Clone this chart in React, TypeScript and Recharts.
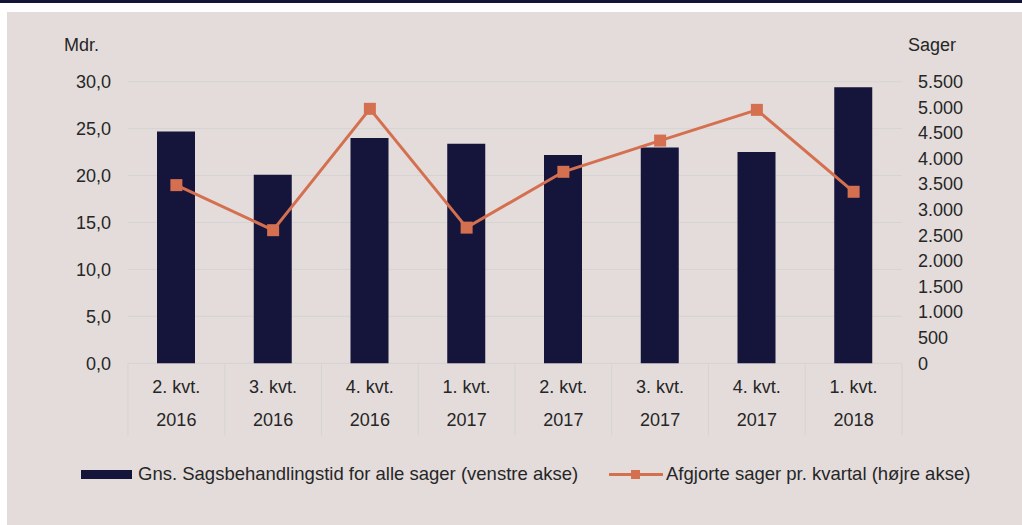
import React from 'react';
import { ComposedChart, Bar, Line, XAxis, YAxis, CartesianGrid } from 'recharts';

const quarters = ['2. kvt.', '3. kvt.', '4. kvt.', '1. kvt.', '2. kvt.', '3. kvt.', '4. kvt.', '1. kvt.'];
const years = ['2016', '2016', '2016', '2017', '2017', '2017', '2017', '2018'];
const behandlingstid = [24.7, 20.1, 24.0, 23.4, 22.2, 23.0, 22.5, 29.4];
const afgjorte = [3480, 2600, 4970, 2650, 3740, 4350, 4950, 3350];
const leftTicks = [0, 5, 10, 15, 20, 25, 30];
const rightTicks = [0, 500, 1000, 1500, 2000, 2500, 3000, 3500, 4000, 4500, 5000, 5500];
const barName = 'Gns. Sagsbehandlingstid for alle sager (venstre akse)';
const lineName = 'Afgjorte sager pr. kvartal (højre akse)';
const leftUnit = 'Mdr.';
const rightUnit = 'Sager';

const data = quarters.map((q, i) => ({
  label: q + '|' + years[i],
  tid: behandlingstid[i],
  sager: afgjorte[i],
}));

const W = 1022;
const H = 525;
const FONT = '"Liberation Sans", Arial, sans-serif';
const TEXT = '#262626';
const NAVY = '#15153B';
const ORANGE = '#D4704F';
const BG = '#E3DCDB';
const GRID = '#D5D3D3';
const margin = { top: 81.7, right: 60, bottom: 89.7, left: 68 };
const AXW = 60;
const plotWidth = W - margin.left - margin.right - 2 * AXW;

const fmtLeft = (v: number) => v.toFixed(1).replace('.', ',');
const fmtRight = (v: number) => String(v).replace(/\B(?=(\d{3})+(?!\d))/g, '.');

const XTick = (props: any) => {
  const { x, y, payload, index } = props;
  const n = props.visibleTicksCount || quarters.length;
  const bw = plotWidth / n;
  const [q, yr] = String(payload.value).split('|');
  return (
    <g>
      <line x1={x - bw / 2} x2={x - bw / 2} y1={y} y2={y + 72} stroke={GRID} strokeWidth={1} />
      {index === n - 1 && (
        <line x1={x + bw / 2} x2={x + bw / 2} y1={y} y2={y + 72} stroke={GRID} strokeWidth={1} />
      )}
      <text x={x} y={y + 24} textAnchor="middle" dominantBaseline="central" fontFamily={FONT} fontSize={18} fill={TEXT}>
        {q}
      </text>
      <text x={x} y={y + 57} textAnchor="middle" dominantBaseline="central" fontFamily={FONT} fontSize={18} fill={TEXT}>
        {yr}
      </text>
    </g>
  );
};

const SquareDot = (props: any) => {
  const { cx, cy } = props;
  if (cx == null || cy == null) return null;
  return <rect x={cx - 6} y={cy - 6} width={12} height={12} fill={ORANGE} />;
};

export default function App() {
  return (
    <div style={{ position: 'absolute', left: 0, top: 0, width: W, height: H, background: '#FFFFFF', overflow: 'hidden' }}>
      <div style={{ position: 'absolute', left: 0, top: 0, width: W, height: 3, background: '#141438' }} />
      <div style={{ position: 'absolute', left: 7, top: 12, width: W - 7, height: H - 12, background: BG }} />
      <div style={{ position: 'absolute', left: 0, top: 0 }}>
        <ComposedChart width={W} height={H} data={data} margin={margin}>
          <CartesianGrid yAxisId="left" vertical={false} stroke={GRID} strokeWidth={1} />
          <XAxis
            dataKey="label"
            height={72}
            axisLine={false}
            tickLine={false}
            tickSize={0}
            tickMargin={0}
            interval={0}
            tick={<XTick />}
          />
          <YAxis
            yAxisId="left"
            orientation="left"
            width={AXW}
            domain={[0, 30]}
            ticks={leftTicks}
            interval={0}
            tickFormatter={fmtLeft}
            axisLine={false}
            tickLine={false}
            tickSize={0}
            tickMargin={17}
            tick={{ fontFamily: FONT, fontSize: 18, fill: TEXT }}
            label={{
              content: (p: any) => (
                <text x={64} y={45} dominantBaseline="central" fontFamily={FONT} fontSize={18} fill={TEXT}>
                  {leftUnit}
                </text>
              ),
            }}
          />
          <YAxis
            yAxisId="right"
            orientation="right"
            width={AXW}
            domain={[0, 5500]}
            ticks={rightTicks}
            interval={0}
            tickFormatter={fmtRight}
            axisLine={false}
            tickLine={false}
            tickSize={0}
            tickMargin={16}
            tick={{ fontFamily: FONT, fontSize: 18, fill: TEXT, textAnchor: 'start' }}
            label={{
              content: (p: any) => (
                <text x={908} y={45} dominantBaseline="central" fontFamily={FONT} fontSize={18} fill={TEXT}>
                  {rightUnit}
                </text>
              ),
            }}
          />
          <Bar yAxisId="left" dataKey="tid" name={barName} fill={NAVY} barSize={38} isAnimationActive={false} />
          <Line
            yAxisId="right"
            dataKey="sager"
            name={lineName}
            stroke={ORANGE}
            strokeWidth={3}
            dot={<SquareDot />}
            activeDot={false}
            isAnimationActive={false}
          />
        </ComposedChart>
      </div>
      <div style={{ position: 'absolute', left: 81, top: 470, width: 51, height: 9, background: NAVY }} />
      <div style={{ position: 'absolute', left: 138, top: 462, height: 24, lineHeight: '24px', fontFamily: FONT, fontSize: 18.5, color: TEXT, whiteSpace: 'nowrap' }}>
        {barName}
      </div>
      <div style={{ position: 'absolute', left: 609, top: 472.5, width: 54, height: 3, background: ORANGE }} />
      <div style={{ position: 'absolute', left: 631, top: 469.5, width: 9, height: 9, background: ORANGE }} />
      <div style={{ position: 'absolute', left: 666, top: 462, height: 24, lineHeight: '24px', fontFamily: FONT, fontSize: 18.5, color: TEXT, whiteSpace: 'nowrap' }}>
        {lineName}
      </div>
    </div>
  );
}
